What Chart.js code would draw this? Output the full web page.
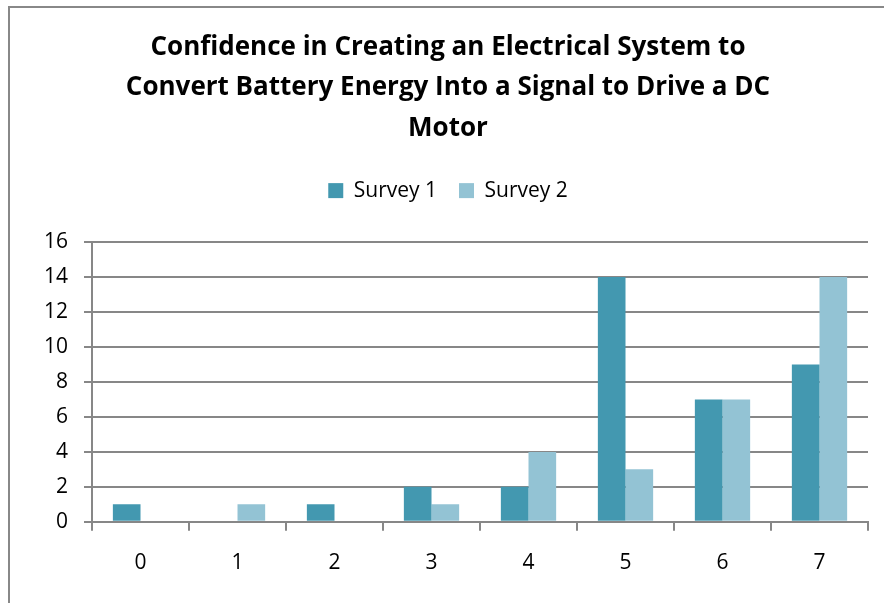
<!DOCTYPE html>
<html>
<head>
<meta charset="utf-8">
<script src="https://cdn.jsdelivr.net/npm/chart.js@4"></script>
<style>
  body { margin: 0; background: #fff; }
  #wrap { position: relative; width: 884px; height: 603px; }
  #frame { position: absolute; left: 8px; top: 6px; right: -4px; bottom: -4px; border-left: 2px solid #888; border-top: 2px solid #888; }
  canvas { position: absolute; left: 0; top: 0; }
</style>
</head>
<body>
<div id="wrap">
  <div id="frame"></div>
  <canvas id="myChart" width="884" height="603"></canvas>
</div>
<script>
const categories = ['0', '1', '2', '3', '4', '5', '6', '7'];
const survey1 = [1, 0, 1, 2, 2, 14, 7, 9];
const survey2 = [0, 1, 0, 1, 4, 3, 7, 14];
const titleLines = [
  'Confidence in Creating an Electrical System to',
  'Convert Battery Energy Into a Signal to Drive a DC',
  'Motor'
];

const font = '"Open Sans", "Liberation Sans", sans-serif';
const gridColor = '#878787';

// give the legend some extra room below it, like the original
const legendSpace = {
  id: 'legendSpace',
  beforeInit(chart) {
    const fit = chart.legend.fit;
    chart.legend.fit = function () {
      fit.bind(chart.legend)();
      this.height += 31;
    };
  }
};

const ctx = document.getElementById('myChart').getContext('2d');
new Chart(ctx, {
  type: 'bar',
  data: {
    labels: categories,
    datasets: [
      { label: 'Survey 1', data: survey1, backgroundColor: '#4398B0', borderWidth: 0 },
      { label: 'Survey 2', data: survey2, backgroundColor: '#93C3D4', borderWidth: 0 }
    ]
  },
  options: {
    responsive: false,
    animation: false,
    layout: { padding: { left: 28, right: 16, top: 28, bottom: 7 } },
    datasets: { bar: { categoryPercentage: 0.57, barPercentage: 1.0 } },
    plugins: {
      tooltip: { enabled: false },
      title: {
        display: true,
        text: titleLines,
        color: '#000',
        font: { family: font, size: 26, weight: 'bold', lineHeight: 1.54 },
        padding: { top: 0, bottom: 10 }
      },
      legend: {
        display: true,
        labels: {
          color: '#000',
          font: { family: font, size: 21 },
          boxWidth: 15,
          boxHeight: 15,
          padding: 22
        }
      }
    },
    scales: {
      x: {
        grid: {
          offset: true,
          drawOnChartArea: false,
          drawTicks: true,
          tickLength: 9,
          color: gridColor,
          lineWidth: 2
        },
        border: { color: gridColor, width: 2 },
        ticks: { color: '#000', font: { family: font, size: 21 }, padding: 20 }
      },
      y: {
        min: 0,
        max: 16,
        ticks: { stepSize: 2, color: '#000', font: { family: font, size: 21 }, padding: 16 },
        grid: { color: gridColor, lineWidth: 2, tickLength: 8 },
        border: { color: gridColor, width: 2 }
      }
    }
  },
  plugins: [legendSpace]
});
</script>
</body>
</html>
